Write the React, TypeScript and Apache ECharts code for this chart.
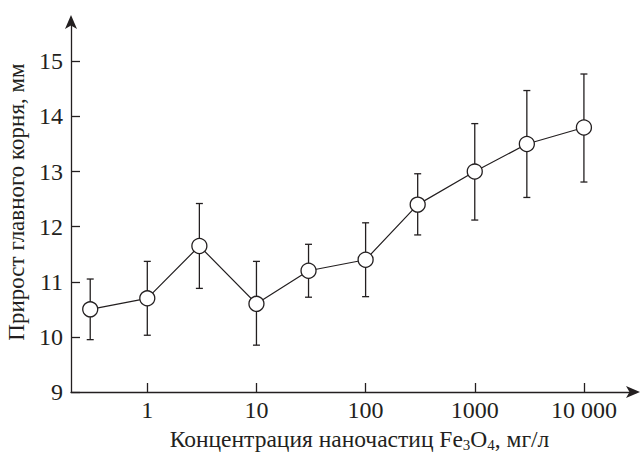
import React, { useEffect, useRef } from "react";
import * as echarts from "echarts";

const concentrations = [0.3, 1, 3, 10, 30, 100, 300, 1000, 3000, 10000];
const growthMean = [10.5, 10.7, 11.65, 10.6, 11.2, 11.4, 12.4, 13.0, 13.5, 13.8];
const errLow = [9.95, 10.03, 10.88, 9.85, 10.72, 10.73, 11.85, 12.12, 12.53, 12.81];
const errHigh = [11.05, 11.37, 12.42, 11.37, 11.68, 12.07, 12.96, 13.87, 14.47, 14.77];
const xTickValues = [1, 10, 100, 1000, 10000];
const yTickValues = [9, 10, 11, 12, 13, 14, 15];

const INK = "#231f20";
const FONT = "Liberation Serif";

export default function App() {
  const ref = useRef<HTMLDivElement>(null);
  useEffect(() => {
    if (!ref.current) return;
    const chart = echarts.init(ref.current, null, { renderer: "svg" });
    const lineData = concentrations.map((c, i) => [c, growthMean[i]]);
    const errData = concentrations.map((c, i) => [c, errLow[i], errHigh[i]]);
    chart.setOption({
      animation: false,
      backgroundColor: "#fff",
      textStyle: { fontFamily: FONT },
      grid: { left: 71, right: 8, top: 20, bottom: 60, containLabel: false, outerBoundsMode: "none" },
      xAxis: {
        type: "log",
        logBase: 10,
        min: 0.2,
        max: 30000,
        splitLine: { show: false },
        axisLine: {
          lineStyle: { color: INK, width: 1.3 },
          symbol: ["none", "arrow"],
          symbolSize: [9, 14],
          symbolOffset: [0, 4],
        },
        axisTick: { inside: true, length: 9, lineStyle: { color: INK, width: 1.3 }, customValues: xTickValues },
        axisLabel: {
          color: INK,
          fontFamily: FONT,
          fontSize: 24,
          margin: 6,
          customValues: xTickValues,
          formatter: (v: number) => (Math.round(v) === 10000 ? "10 000" : String(Math.round(v))),
        },
        name: "{n|Концентрация наночастиц Fe}{s|3}{n|O}{s|4}{n|, мг/л}",
        nameLocation: "middle",
        nameGap: 34,
        nameTextStyle: {
          color: INK,
          fontFamily: FONT,
          fontSize: 23.5,
          padding: [0, 0, 0, 12],
          rich: {
            n: { fontFamily: FONT, fontSize: 23.5, color: INK, lineHeight: 26 },
            s: { fontFamily: FONT, fontSize: 15, color: INK, lineHeight: 26, verticalAlign: "bottom", padding: [9, 0, 0, 0] },
          },
        },
      },
      yAxis: {
        type: "value",
        min: 9,
        max: 15.75,
        splitLine: { show: false },
        axisLine: {
          lineStyle: { color: INK, width: 1.3 },
          symbol: ["none", "arrow"],
          symbolSize: [9, 14],
          symbolOffset: [0, 5],
        },
        axisTick: { inside: true, length: 9, lineStyle: { color: INK, width: 1.3 }, customValues: yTickValues },
        axisLabel: { color: INK, fontFamily: FONT, fontSize: 24, margin: 8, customValues: yTickValues },
        name: "Прирост главного корня, мм",
        nameLocation: "middle",
        nameGap: 42,
        nameTextStyle: { color: INK, fontFamily: FONT, fontSize: 23, padding: [0, 0, 0, 8] },
      },
      series: [
        {
          type: "custom",
          z: 1,
          data: errData,
          renderItem: (params: any, api: any) => {
            const x = api.value(0);
            const lo = api.coord([x, api.value(1)]);
            const hi = api.coord([x, api.value(2)]);
            const cap = 3.5;
            const style = { stroke: INK, lineWidth: 1.3, fill: "none" };
            return {
              type: "group",
              children: [
                { type: "line", shape: { x1: lo[0], y1: lo[1], x2: hi[0], y2: hi[1] }, style },
                { type: "line", shape: { x1: lo[0] - cap, y1: lo[1], x2: lo[0] + cap, y2: lo[1] }, style },
                { type: "line", shape: { x1: hi[0] - cap, y1: hi[1], x2: hi[0] + cap, y2: hi[1] }, style },
              ],
            };
          },
        },
        {
          type: "line",
          z: 3,
          data: lineData,
          symbol: "circle",
          symbolSize: 15,
          lineStyle: { color: INK, width: 1.2 },
          itemStyle: { color: "#fff", borderColor: INK, borderWidth: 1.3 },
        },
      ],
    });
    return () => chart.dispose();
  }, []);
  return <div ref={ref} style={{ width: 644, height: 452, position: "absolute", left: 0, top: 0 }} />;
}
